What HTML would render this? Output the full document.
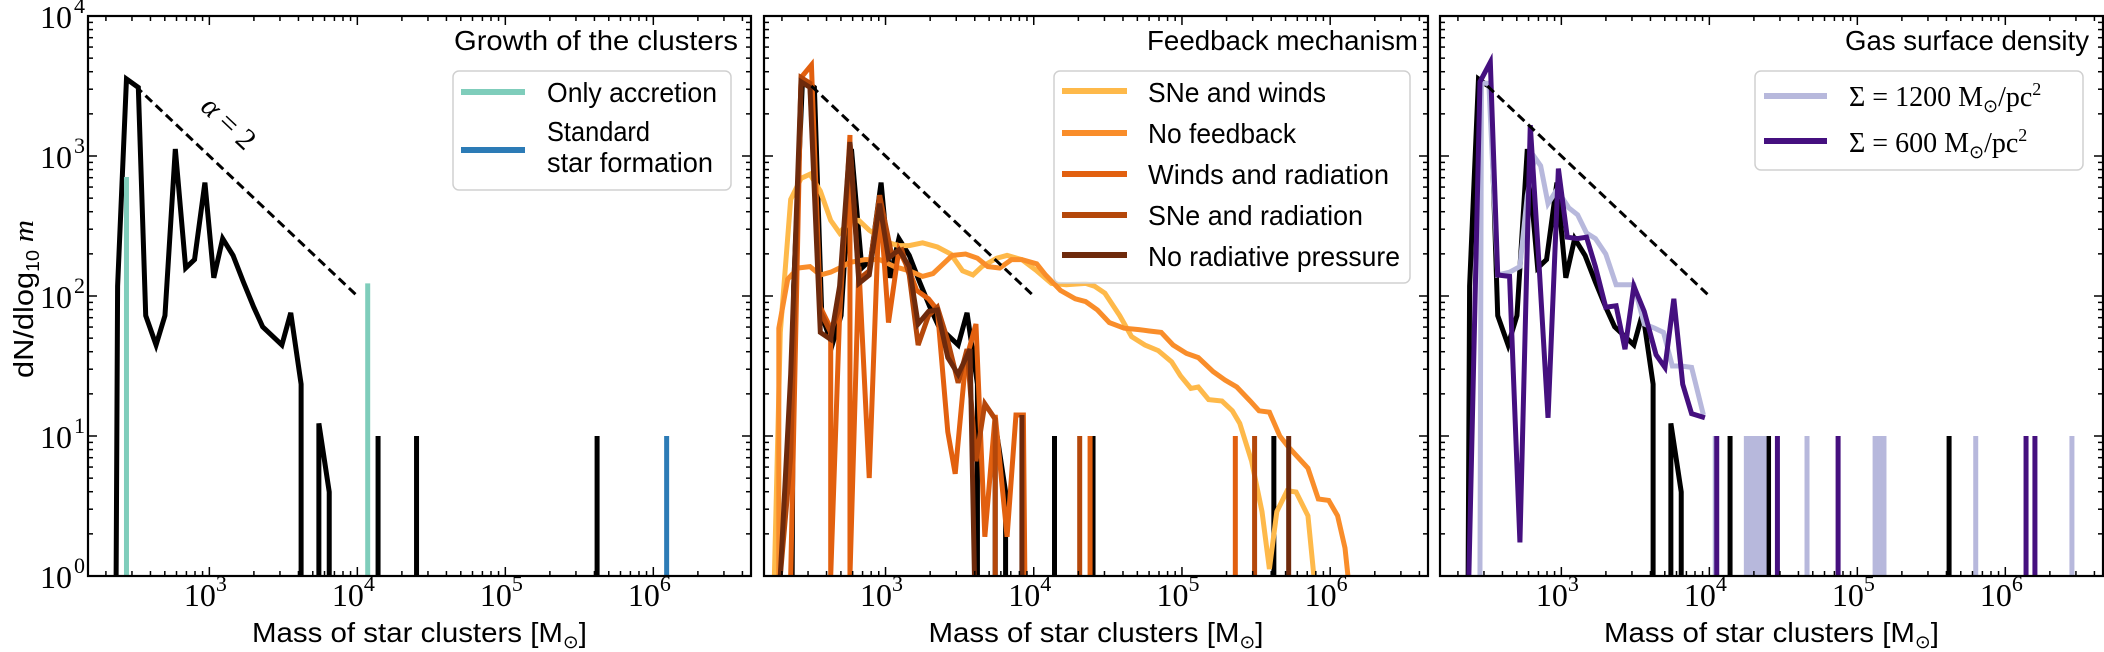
<!DOCTYPE html>
<html><head><meta charset="utf-8"><style>
html,body{margin:0;padding:0;background:#fff;}
svg{display:block;}
text{font-family:"Liberation Sans",sans-serif;fill:#000;}
.serif{font-family:"Liberation Serif",serif;}
</style></head><body>
<svg id="fig" width="2104" height="652" viewBox="0 0 2104 652" xmlns="http://www.w3.org/2000/svg">
<defs>
<clipPath id="c1"><rect x="88" y="16" width="663" height="560"/></clipPath>
<clipPath id="c2"><rect x="764" y="16" width="664" height="560"/></clipPath>
<clipPath id="c3"><rect x="1440" y="16" width="663" height="560"/></clipPath>
</defs>
<g id="layer"></g>
</svg>
<script>
// ---------- data (log10 mass, log10 dN/dlog m; 0 = floor) ----------
const refLogM = [2.37,2.38,2.44,2.52,2.57,2.64,2.70,2.77,2.84,2.90,2.97,3.03,3.09,3.16,3.23,3.30,3.36,3.43,3.49,3.55,3.62,3.62];
const refLogN = [0,2.07,3.55,3.49,1.86,1.65,1.86,3.05,2.20,2.26,2.81,2.13,2.41,2.29,2.10,1.92,1.78,1.71,1.65,1.88,1.37,0];
const refTailLogM = [3.74,3.74,3.81,3.81];
const refTailLogN = [0,1.09,0.60,0];
const refBarsLogM = [4.14,4.40,5.62];
const refBarsLogN = [1,1,1];

const accrLogM = [2.44,2.44,2.44];
const accrLogN = [0,2.85,0];
const accrBarsLogM = [4.07];
const accrBarsLogN = [2.09];
const stdBarsLogM = [6.09];
const stdBarsLogN = [1];

const snwLogM = [2.25,2.29,2.36,2.43,2.49,2.56,2.63,2.69,2.76,2.82,2.89,2.96,3.02,3.09,3.16,3.25,3.35,3.44,3.52,3.59,3.65,3.75,3.82,3.92,4.02,4.12,4.22,4.35,4.41,4.48,4.58,4.66,4.75,4.84,4.93,4.99,5.06,5.11,5.18,5.27,5.34,5.39,5.47,5.54,5.59,5.64,5.71,5.77,5.85,5.89];
const snwLogN = [0,1.74,2.69,2.84,2.87,2.75,2.54,2.45,2.54,2.54,2.47,2.42,2.38,2.36,2.36,2.38,2.35,2.30,2.18,2.15,2.21,2.27,2.29,2.26,2.18,2.09,2.08,2.09,2.07,2.02,1.86,1.71,1.65,1.61,1.53,1.43,1.34,1.35,1.26,1.25,1.18,1.09,0.82,0.46,0.05,0.46,0.61,0.60,0.43,0];

const nofbLogM = [2.28,2.28,2.34,2.41,2.49,2.56,2.63,2.69,2.76,2.86,2.96,3.06,3.16,3.25,3.32,3.39,3.45,3.54,3.62,3.69,3.77,3.85,3.92,4.02,4.08,4.18,4.28,4.35,4.43,4.51,4.61,4.71,4.78,4.86,4.94,5.03,5.11,5.21,5.29,5.37,5.46,5.52,5.59,5.66,5.72,5.85,5.92,5.99,6.05,6.10,6.12];
const nofbLogN = [0,1.77,2.12,2.20,2.21,2.15,2.17,2.20,2.24,2.26,2.26,2.21,2.18,2.14,2.16,2.23,2.29,2.30,2.27,2.21,2.20,2.26,2.26,2.23,2.15,2.04,1.98,1.96,1.90,1.81,1.77,1.76,1.75,1.74,1.65,1.59,1.56,1.46,1.40,1.35,1.25,1.18,1.17,1.00,0.92,0.77,0.55,0.54,0.43,0.20,0];

const wrLogM = [2.36,2.43,2.50,2.56,2.63,2.63,2.69,2.76,2.76,2.82,2.89,2.96,3.02,3.09,3.16,3.21,3.29,3.35,3.42,3.47,3.54,3.61,3.67,3.74,3.82,3.88,3.93,3.94];
const wrLogN = [0,3.56,3.65,1.92,1.77,0,1.86,3.15,0,2.21,0.70,2.72,1.81,2.33,2.18,2.04,1.98,1.90,1.03,0.73,1.53,1.80,0.28,1.15,0.28,1.15,1.15,0];
const wrBarsLogM = [4.38,5.36];
const wrBarsLogN = [1,1];

const srLogM = [2.29,2.36,2.43,2.49,2.56,2.63,2.69,2.76,2.82,2.89,2.96,3.04,3.11,3.16,3.22,3.29,3.35,3.42,3.49,3.55,3.61,3.67,3.74,3.74];
const srLogN = [0,0.85,3.56,3.52,1.89,1.74,1.92,3.10,2.12,2.18,2.72,2.30,2.33,2.15,1.65,1.86,1.92,1.68,1.38,1.62,0.82,1.23,1.12,0];
const srBarsLogM = [4.31,5.49];
const srBarsLogN = [1,1];

const nrpLogM = [2.29,2.36,2.43,2.49,2.56,2.63,2.69,2.76,2.82,2.89,2.96,3.02,3.09,3.16,3.22,3.29,3.35,3.42,3.49,3.57,3.60];
const nrpLogN = [0,1.44,3.53,3.49,1.74,1.69,2.07,3.10,2.09,2.15,2.66,2.27,2.33,2.21,1.80,1.89,1.90,1.56,1.44,1.62,0];
const nrpBarsLogM = [3.92,5.72];
const nrpBarsLogN = [1.15,1];

const s1200LogM = [2.45,2.46,2.51,2.57,2.65,2.72,2.77,2.82,2.86,2.91,2.97,3.05,3.11,3.17,3.23,3.30,3.37,3.43,3.49,3.56,3.63,3.69,3.75,3.81,3.88,3.96];
const s1200LogN = [0,3.52,3.52,2.15,2.17,2.21,2.72,2.99,2.93,2.66,2.76,2.63,2.58,2.45,2.41,2.30,2.08,2.08,2.08,1.80,1.77,1.74,1.50,1.50,1.49,1.15];
const s1200BarsLogM = [4.04,4.25,4.28,4.31,4.34,4.37,4.66,5.12,5.15,5.18,5.80,6.45];
const s1200BarsLogN = [1,1,1,1,1,1,1,1,1,1,1,1];

const s600LogM = [2.375,2.45,2.52,2.57,2.65,2.72,2.79,2.85,2.91,2.98,3.04,3.11,3.17,3.23,3.30,3.37,3.43,3.49,3.56,3.64,3.70,3.76,3.82,3.88,3.97];
const s600LogN = [0,3.53,3.67,2.15,2.14,0.24,3.22,2.21,1.13,2.91,2.42,2.41,2.42,2.21,1.92,1.93,1.62,2.07,1.89,1.58,1.49,1.98,1.37,1.16,1.13];
const s600BarsLogM = [4.05,4.46,4.87,6.14,6.20];
const s600BarsLogN = [1,1,1,1,1];

const xTickExps = [3,4,5,6];
const yTickExps = [0,1,2,3,4];
const guideLogM = [2.5,4.0];
const guideLogN = [3.5,2.0];

// ---------- axes ----------
const XMIN = 2.18, XMAX = 6.66, YMIN = 0, YMAX = 4;
const TOP = 16, H = 560;
const panels = [{L:88,W:663,clip:'c1'},{L:764,W:664,clip:'c2'},{L:1440,W:663,clip:'c3'}];
const NS = 'http://www.w3.org/2000/svg';
const layer = document.getElementById('layer');
function xs(p, lm){ return p.L + (lm - XMIN)/(XMAX - XMIN)*p.W; }
function ys(ln){ return TOP + (YMAX - ln)/(YMAX - YMIN)*H; }
function mk(tag, attrs, parent){
  const e = document.createElementNS(NS, tag);
  for (const k in attrs) e.setAttribute(k, attrs[k]);
  (parent||layer).appendChild(e); return e;
}
function series(p, lm, ln, color, name, w){
  let d = '';
  for (let i=0;i<lm.length;i++){ d += (i?'L':'M') + xs(p,lm[i]).toFixed(2)+','+ys(ln[i]).toFixed(2); }
  const e = mk('path',{d:d,fill:'none',stroke:color,'stroke-width':w||5,'stroke-linejoin':'miter','clip-path':'url(#'+p.clip+')'});
  
  
}
function bars(p, lm, ln, color, name){
  for (let i=0;i<lm.length;i++){
    const e = mk('line',{x1:xs(p,lm[i]),x2:xs(p,lm[i]),y1:ys(0)+3,y2:ys(ln[i]),stroke:color,'stroke-width':5,'clip-path':'url(#'+p.clip+')'});
    
    
  }
}
function guide(p, n){
  const e = mk('line',{x1:xs(p,guideLogM[0]),y1:ys(guideLogN[0]),x2:xs(p,guideLogM[1]),y2:ys(guideLogN[1]),stroke:'#000','stroke-width':3,'stroke-dasharray':'9,5'});
  
  
}
function axes(p, idx, ylabels){
  const g = mk('g',{});
  
  
  const B = TOP+H, R = p.L+p.W;
  for (let e=Math.floor(XMIN); e<=Math.ceil(XMAX); e++){
    for (let k=1;k<10;k++){
      const lm = e + Math.log10(k);
      if (lm < XMIN || lm > XMAX) continue;
      const x = xs(p, lm), len = k===1?9:5;
      mk('line',{x1:x,x2:x,y1:B,y2:B-len,stroke:'#000','stroke-width':1.5},g);
      mk('line',{x1:x,x2:x,y1:TOP,y2:TOP+len,stroke:'#000','stroke-width':1.5},g);
    }
  }
  for (let e=YMIN; e<YMAX; e++){
    for (let k=1;k<10;k++){
      const ln = e + Math.log10(k), y = ys(ln), len = k===1?9:5;
      mk('line',{x1:p.L,x2:p.L+len,y1:y,y2:y,stroke:'#000','stroke-width':1.5},g);
      mk('line',{x1:R,x2:R-len,y1:y,y2:y,stroke:'#000','stroke-width':1.5},g);
    }
  }
  mk('rect',{x:p.L,y:TOP,width:p.W,height:H,fill:'none',stroke:'#000','stroke-width':2.2},g);
  xTickExps.forEach(e=>{
    const t = mk('text',{x:xs(p,e)-4,y:606,'text-anchor':'middle','font-size':32,class:'serif'},g);
    
    
    t.innerHTML = '10<tspan dy="-15" font-size="22">'+e+'</tspan>';
  });
  if (ylabels){
    yTickExps.forEach(e=>{
      const t = mk('text',{x:p.L-16,y:ys(e)+12,'text-anchor':'end','font-size':32,class:'serif'},g);
      
      
      t.innerHTML = '10';
      const s = mk('text',{x:p.L-3,y:ys(e)-3,'text-anchor':'end','font-size':22,class:'serif'},g);
      
      
      s.textContent = e;
    });
  }
  const xl = mk('text',{x:p.L+p.W/2,y:642,'text-anchor':'middle','font-size':28,textLength:335,lengthAdjust:'spacingAndGlyphs'},g);
  
  
  xl.innerHTML = 'Mass of star clusters [M<tspan font-size="18" dy="6">⊙</tspan><tspan dy="-6">]</tspan>';
}

// Panel 1
const P1 = panels[0], P2 = panels[1], P3 = panels[2];
series(P1, refLogM, refLogN, '#000', 'reference-line-p1');
series(P1, refTailLogM, refTailLogN, '#000', 'reference-tail-p1');
bars(P1, refBarsLogM, refBarsLogN, '#000', 'reference-bar-p1');
series(P1, accrLogM, accrLogN, '#7fcdbb', 'only-accretion-line');
bars(P1, accrBarsLogM, accrBarsLogN, '#7fcdbb', 'only-accretion-bar');
bars(P1, stdBarsLogM, stdBarsLogN, '#2c7bb6', 'standard-sf-bar');
guide(P1, 1);
axes(P1, 1, true);

// Panel 2
series(P2, refLogM, refLogN, '#000', 'reference-line-p2');
series(P2, refTailLogM, refTailLogN, '#000', 'reference-tail-p2');
bars(P2, refBarsLogM, refBarsLogN, '#000', 'reference-bar-p2');
series(P2, snwLogM, snwLogN, '#feb94a', 'sne-winds-line');
series(P2, nofbLogM, nofbLogN, '#f98d2a', 'no-feedback-line');
series(P2, wrLogM, wrLogN, '#e2600f', 'winds-radiation-line');
bars(P2, wrBarsLogM, wrBarsLogN, '#e2600f', 'winds-radiation-bar');
series(P2, srLogM, srLogN, '#b4470a', 'sne-radiation-line');
bars(P2, srBarsLogM, srBarsLogN, '#b4470a', 'sne-radiation-bar');
series(P2, nrpLogM, nrpLogN, '#6e2a0c', 'no-radiative-pressure-line');
bars(P2, nrpBarsLogM, nrpBarsLogN, '#6e2a0c', 'no-radiative-pressure-bar');
guide(P2, 2);
axes(P2, 2, false);

// Panel 3
series(P3, refLogM, refLogN, '#000', 'reference-line-p3');
series(P3, refTailLogM, refTailLogN, '#000', 'reference-tail-p3');
bars(P3, refBarsLogM, refBarsLogN, '#000', 'reference-bar-p3');
series(P3, s1200LogM, s1200LogN, '#b7b8dc', 'sigma-1200-line');
bars(P3, s1200BarsLogM, s1200BarsLogN, '#b7b8dc', 'sigma-1200-bar');
series(P3, s600LogM, s600LogN, '#45107f', 'sigma-600-line');
bars(P3, s600BarsLogM, s600BarsLogN, '#45107f', 'sigma-600-bar');
guide(P3, 3);
axes(P3, 3, false);
</script>
<svg style="position:absolute;left:0;top:0" width="2104" height="652" xmlns="http://www.w3.org/2000/svg">
  <text transform="translate(33,299) rotate(-90)" text-anchor="middle" font-size="28" textLength="158" lengthAdjust="spacingAndGlyphs">dN/dlog<tspan font-size="18" dy="6">10</tspan><tspan dy="-6" class="serif" font-style="italic"> m</tspan></text>
  <text class="serif" font-size="30" font-style="italic" text-anchor="middle" transform="translate(222,130) rotate(43.4)">α <tspan font-style="normal">= 2</tspan></text>

  <text x="738" y="50" text-anchor="end" font-size="28" textLength="284" lengthAdjust="spacingAndGlyphs">Growth of the clusters</text>
  <g>
    <rect x="453" y="71" width="278" height="119" rx="6" fill="#fff" fill-opacity="0.85" stroke="#d0d0d0" stroke-width="1.5"/>
    <line x1="461" x2="525" y1="92" y2="92" stroke="#7fcdbb" stroke-width="6"/>
    <text x="547" y="102" font-size="28" textLength="170" lengthAdjust="spacingAndGlyphs">Only accretion</text>
    <line x1="461" x2="525" y1="150" y2="150" stroke="#2c7bb6" stroke-width="6"/>
    <text x="547" y="141" font-size="28" textLength="103" lengthAdjust="spacingAndGlyphs">Standard</text>
    <text x="547" y="172" font-size="28" textLength="166" lengthAdjust="spacingAndGlyphs">star formation</text>
  </g>

  <text x="1418" y="50" text-anchor="end" font-size="28" textLength="271" lengthAdjust="spacingAndGlyphs">Feedback mechanism</text>
  <g>
    <rect x="1054" y="71" width="356" height="212" rx="6" fill="#fff" fill-opacity="0.85" stroke="#d0d0d0" stroke-width="1.5"/>
    <line x1="1062" x2="1127" y1="91" y2="91" stroke="#feb94a" stroke-width="6"/>
    <text x="1148" y="102" font-size="28" textLength="178" lengthAdjust="spacingAndGlyphs">SNe and winds</text>
    <line x1="1062" x2="1127" y1="133" y2="133" stroke="#f98d2a" stroke-width="6"/>
    <text x="1148" y="143" font-size="28" textLength="148" lengthAdjust="spacingAndGlyphs">No feedback</text>
    <line x1="1062" x2="1127" y1="174" y2="174" stroke="#e2600f" stroke-width="6"/>
    <text x="1148" y="184" font-size="28" textLength="241" lengthAdjust="spacingAndGlyphs">Winds and radiation</text>
    <line x1="1062" x2="1127" y1="215" y2="215" stroke="#b4470a" stroke-width="6"/>
    <text x="1148" y="225" font-size="28" textLength="215" lengthAdjust="spacingAndGlyphs">SNe and radiation</text>
    <line x1="1062" x2="1127" y1="255" y2="255" stroke="#6e2a0c" stroke-width="6"/>
    <text x="1148" y="266" font-size="28" textLength="252" lengthAdjust="spacingAndGlyphs">No radiative pressure</text>
  </g>

  <text x="2089" y="50" text-anchor="end" font-size="28" textLength="244" lengthAdjust="spacingAndGlyphs">Gas surface density</text>
  <g>
    <rect x="1755" y="71" width="328" height="99" rx="6" fill="#fff" fill-opacity="0.85" stroke="#d0d0d0" stroke-width="1.5"/>
    <line x1="1764" x2="1827" y1="96" y2="96" stroke="#b7b8dc" stroke-width="6"/>
    <text class="serif" x="1849" y="106" font-size="28">Σ = 1200 M<tspan font-size="18" dy="6">⊙</tspan><tspan dy="-6">/pc</tspan><tspan font-size="18" dy="-11">2</tspan></text>
    <line x1="1764" x2="1827" y1="141" y2="141" stroke="#45107f" stroke-width="6"/>
    <text class="serif" x="1849" y="152" font-size="28">Σ = 600 M<tspan font-size="18" dy="6">⊙</tspan><tspan dy="-6">/pc</tspan><tspan font-size="18" dy="-11">2</tspan></text>
  </g>
</svg>
</body></html>
